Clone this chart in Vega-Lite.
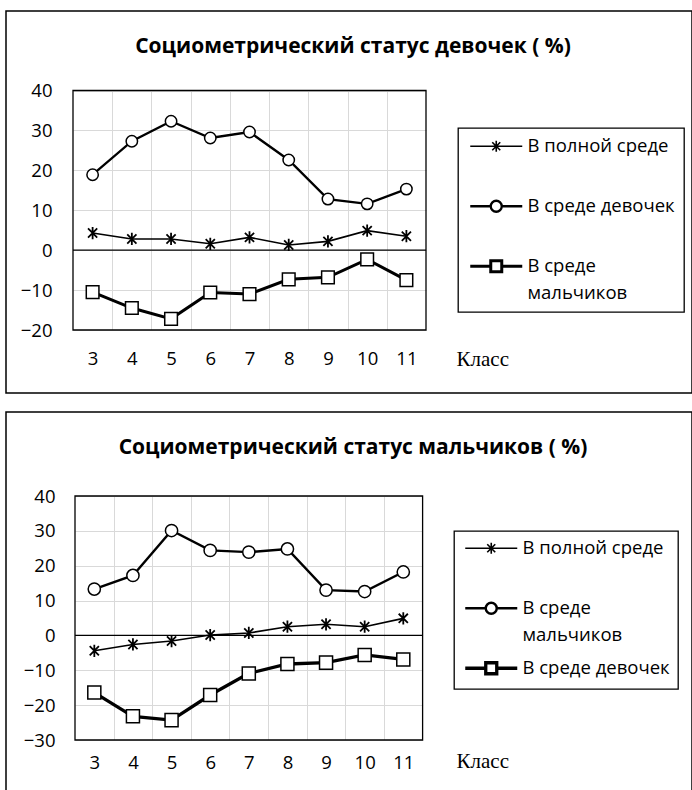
{
  "$schema": "https://vega.github.io/schema/vega-lite/v6.json",
  "background": "white",
  "padding": {"left": 5, "top": 10, "right": 0, "bottom": 0},
  "spacing": 17,
  "datasets": {
    "girls": [
      {"class": 3, "series": "В полной среде", "value": 4.3},
      {"class": 4, "series": "В полной среде", "value": 2.8},
      {"class": 5, "series": "В полной среде", "value": 2.8},
      {"class": 6, "series": "В полной среде", "value": 1.6},
      {"class": 7, "series": "В полной среде", "value": 3.2},
      {"class": 8, "series": "В полной среде", "value": 1.3},
      {"class": 9, "series": "В полной среде", "value": 2.2},
      {"class": 10, "series": "В полной среде", "value": 4.9},
      {"class": 11, "series": "В полной среде", "value": 3.5},
      {"class": 3, "series": "В среде девочек", "value": 18.9},
      {"class": 4, "series": "В среде девочек", "value": 27.3},
      {"class": 5, "series": "В среде девочек", "value": 32.3},
      {"class": 6, "series": "В среде девочек", "value": 28.1},
      {"class": 7, "series": "В среде девочек", "value": 29.6},
      {"class": 8, "series": "В среде девочек", "value": 22.6},
      {"class": 9, "series": "В среде девочек", "value": 12.8},
      {"class": 10, "series": "В среде девочек", "value": 11.6},
      {"class": 11, "series": "В среде девочек", "value": 15.3},
      {"class": 3, "series": "В среде мальчиков", "value": -10.5},
      {"class": 4, "series": "В среде мальчиков", "value": -14.5},
      {"class": 5, "series": "В среде мальчиков", "value": -17.2},
      {"class": 6, "series": "В среде мальчиков", "value": -10.6},
      {"class": 7, "series": "В среде мальчиков", "value": -11.0},
      {"class": 8, "series": "В среде мальчиков", "value": -7.3},
      {"class": 9, "series": "В среде мальчиков", "value": -6.8},
      {"class": 10, "series": "В среде мальчиков", "value": -2.3},
      {"class": 11, "series": "В среде мальчиков", "value": -7.5}
    ],
    "boys": [
      {"class": 3, "series": "В полной среде", "value": -4.4},
      {"class": 4, "series": "В полной среде", "value": -2.6},
      {"class": 5, "series": "В полной среде", "value": -1.6},
      {"class": 6, "series": "В полной среде", "value": 0.1},
      {"class": 7, "series": "В полной среде", "value": 0.7},
      {"class": 8, "series": "В полной среде", "value": 2.5},
      {"class": 9, "series": "В полной среде", "value": 3.2},
      {"class": 10, "series": "В полной среде", "value": 2.5},
      {"class": 11, "series": "В полной среде", "value": 4.9},
      {"class": 3, "series": "В среде мальчиков", "value": 13.3},
      {"class": 4, "series": "В среде мальчиков", "value": 17.2},
      {"class": 5, "series": "В среде мальчиков", "value": 30.1},
      {"class": 6, "series": "В среде мальчиков", "value": 24.4},
      {"class": 7, "series": "В среде мальчиков", "value": 23.9},
      {"class": 8, "series": "В среде мальчиков", "value": 24.8},
      {"class": 9, "series": "В среде мальчиков", "value": 13.0},
      {"class": 10, "series": "В среде мальчиков", "value": 12.6},
      {"class": 11, "series": "В среде мальчиков", "value": 18.2},
      {"class": 3, "series": "В среде девочек", "value": -16.4},
      {"class": 4, "series": "В среде девочек", "value": -23.2},
      {"class": 5, "series": "В среде девочек", "value": -24.3},
      {"class": 6, "series": "В среде девочек", "value": -17.1},
      {"class": 7, "series": "В среде девочек", "value": -10.9},
      {"class": 8, "series": "В среде девочек", "value": -8.2},
      {"class": 9, "series": "В среде девочек", "value": -7.8},
      {"class": 10, "series": "В среде девочек", "value": -5.6},
      {"class": 11, "series": "В среде девочек", "value": -6.9}
    ]
  },
  "vconcat": [
    {
      "width": 686,
      "height": 382,
      "title": {"text": "Социометрический статус девочек ( %)", "offset": -57, "dx": 4, "baseline": "middle", "frame": "group", "anchor": "middle"},
      "data": {"name": "girls"},
      "layer": [
        {
          "data": {"values": [{}]},
          "mark": {"type": "rect", "fill": "transparent", "stroke": "black", "strokeWidth": 1.3},
          "encoding": {
            "x": {"datum": 2.5, "type": "quantitative",
                  "scale": {"domain": [2.5, 11.5], "range": [67, 420], "nice": false, "zero": false},
                  "axis": {"orient": "top", "values": [3.5, 4.5, 5.5, 6.5, 7.5, 8.5, 9.5, 10.5], "grid": true,
                           "gridColor": "#d9d9d9", "gridWidth": 1, "labels": false, "title": null}},
            "x2": {"datum": 11.5},
            "y": {"datum": -20, "type": "quantitative", "scale": {"domain": [-20, 40], "range": [319, 79.5], "nice": false, "zero": false}},
            "y2": {"datum": 40}
          }
        },
        {
          "data": {"values": [{}]},
          "mark": {"type": "rule", "color": "black", "strokeWidth": 1.3},
          "encoding": {
            "x": {"datum": 2.5, "type": "quantitative", "scale": {"domain": [2.5, 11.5], "range": [67, 420], "nice": false, "zero": false}, "axis": null},
            "x2": {"datum": 11.5},
            "y": {"datum": 0, "type": "quantitative", "scale": {"domain": [-20, 40], "range": [319, 79.5], "nice": false, "zero": false}}
          }
        },
        {
          "mark": {"type": "line"},
          "encoding": {
            "x": {"field": "class", "type": "quantitative",
                  "scale": {"domain": [2.5, 11.5], "range": [67, 420], "nice": false, "zero": false},
                  "axis": {"orient": "bottom", "values": [3, 4, 5, 6, 7, 8, 9, 10, 11], "grid": false,
                           "offset": -63, "labelPadding": 19, "labelFlush": false, "labelOverlap": false, "format": "d",
                           "title": "Класс", "titleFont": "Liberation Serif", "titleFontSize": 21, "titleFontWeight": "normal",
                           "titleColor": "black", "titleX": 450, "titleY": 29, "titleAlign": "left", "titleBaseline": "middle", "titleAngle": 0}},
            "y": {"field": "value", "type": "quantitative",
                  "scale": {"domain": [-20, 40], "range": [319, 79.5], "nice": false, "zero": false},
                  "axis": {"values": [-20, -10, 0, 10, 20, 30, 40], "grid": true, "gridColor": "#d9d9d9", "gridWidth": 1,
                           "offset": -67, "labelPadding": 21, "title": null}},
            "stroke": {"field": "series", "type": "nominal",
                       "scale": {"domain": ["В полной среде", "В среде девочек", "В среде мальчиков"], "range": ["black", "black", "black"]},
                       "legend": {"title": null, "orient": "none", "legendX": 452, "legendY": 117, "padding": 9,
                                  "strokeColor": "black", "gridAlign": "all", "rowPadding": 11, "symbolSize": 100,
                                  "symbolOffset": 20,
                                  "labelFont": "Open Sans", "labelFontSize": 18.5, "labelColor": "black", "labelOffset": 22,
                                  "labelBaseline": "top", "labelLimit": 400,
                                  "labelExpr": "datum.label === 'В среде мальчиков' ? ['В среде', 'мальчиков'] : datum.label",
                                  "encode": {
                                    "labels": {"update": {"dy": {"value": -9}, "lineHeight": {"value": 27}}},
                                    "symbols": {"update": {
                                      "shape": {"signal": "datum.index === 0 ? 'M-5.2,0H5.2M-0.8,-0.8L0.8,0.8M-0.8,0.8L0.8,-0.8M0,-1.1V1.1' : datum.index === 1 ? 'M-5.2,0H-1.1M1.1,0H5.2M-1.1,0A1.1,1.1,0,1,0,1.1,0A1.1,1.1,0,1,0,-1.1,0Z' : 'M-5.2,0H-1.1M1.1,0H5.2M-1.1,-1.1H1.1V1.1H-1.1Z'"},
                                      "size": {"value": 100},
                                      "strokeWidth": {"signal": "datum.index === 0 ? 1.6 : 2.6"},
                                      "fill": {"value": "white"}, "stroke": {"value": "black"}, "opacity": {"value": 1}}},
                                    "legend": {"update": {"strokeWidth": {"value": 1.3}}}
                                  }}},
            "strokeWidth": {"field": "series", "type": "nominal",
                            "scale": {"domain": ["В полной среде", "В среде девочек", "В среде мальчиков"], "range": [1.6, 3, 3]},
                            "legend": null}
          }
        },
        {
          "transform": [{"filter": {"field": "series", "equal": "В полной среде"}}],
          "mark": {"type": "point", "shape": "M0,-1V1M-0.75,-0.75L0.75,0.75M-0.75,0.75L0.75,-0.75", "size": 150, "stroke": "black", "strokeWidth": 1.8, "opacity": 1},
          "encoding": {
            "x": {"field": "class", "type": "quantitative", "scale": {"domain": [2.5, 11.5], "range": [67, 420], "nice": false, "zero": false}, "axis": null},
            "y": {"field": "value", "type": "quantitative", "scale": {"domain": [-20, 40], "range": [319, 79.5], "nice": false, "zero": false}}
          }
        },
        {
          "transform": [{"filter": {"field": "series", "equal": "В среде девочек"}}],
          "mark": {"type": "point", "shape": "circle", "size": 130, "filled": true, "fill": "white", "stroke": "black", "strokeWidth": 1.5, "opacity": 1},
          "encoding": {
            "x": {"field": "class", "type": "quantitative", "scale": {"domain": [2.5, 11.5], "range": [67, 420], "nice": false, "zero": false}, "axis": null},
            "y": {"field": "value", "type": "quantitative", "scale": {"domain": [-20, 40], "range": [319, 79.5], "nice": false, "zero": false}}
          }
        },
        {
          "transform": [{"filter": {"field": "series", "equal": "В среде мальчиков"}}],
          "mark": {"type": "point", "shape": "square", "size": 160, "filled": true, "fill": "white", "stroke": "black", "strokeWidth": 1.5, "opacity": 1},
          "encoding": {
            "x": {"field": "class", "type": "quantitative", "scale": {"domain": [2.5, 11.5], "range": [67, 420], "nice": false, "zero": false}, "axis": null},
            "y": {"field": "value", "type": "quantitative", "scale": {"domain": [-20, 40], "range": [319, 79.5], "nice": false, "zero": false}}
          }
        }
      ],
      "resolve": {"axis": {"x": "independent"}}
    },
    {
      "width": 686,
      "height": 381,
      "title": {"text": "Социометрический статус мальчиков ( %)", "offset": -57, "dx": 4, "baseline": "middle", "frame": "group", "anchor": "middle"},
      "data": {"name": "boys"},
      "layer": [
        {
          "data": {"values": [{}]},
          "mark": {"type": "rect", "fill": "transparent", "stroke": "black", "strokeWidth": 1.3},
          "encoding": {
            "x": {"datum": 2.5, "type": "quantitative",
                  "scale": {"domain": [2.5, 11.5], "range": [69, 416.6], "nice": false, "zero": false},
                  "axis": {"orient": "top", "values": [3.5, 4.5, 5.5, 6.5, 7.5, 8.5, 9.5, 10.5], "grid": true,
                           "gridColor": "#d9d9d9", "gridWidth": 1, "labels": false, "title": null}},
            "x2": {"datum": 11.5},
            "y": {"datum": -30, "type": "quantitative", "scale": {"domain": [-30, 40], "range": [328, 84], "nice": false, "zero": false}},
            "y2": {"datum": 40}
          }
        },
        {
          "data": {"values": [{}]},
          "mark": {"type": "rule", "color": "black", "strokeWidth": 1.3},
          "encoding": {
            "x": {"datum": 2.5, "type": "quantitative", "scale": {"domain": [2.5, 11.5], "range": [69, 416.6], "nice": false, "zero": false}, "axis": null},
            "x2": {"datum": 11.5},
            "y": {"datum": 0, "type": "quantitative", "scale": {"domain": [-30, 40], "range": [328, 84], "nice": false, "zero": false}}
          }
        },
        {
          "mark": {"type": "line"},
          "encoding": {
            "x": {"field": "class", "type": "quantitative",
                  "scale": {"domain": [2.5, 11.5], "range": [69, 416.6], "nice": false, "zero": false},
                  "axis": {"orient": "bottom", "values": [3, 4, 5, 6, 7, 8, 9, 10, 11], "grid": false,
                           "offset": -53, "labelPadding": 13, "labelFlush": false, "labelOverlap": false, "format": "d",
                           "title": "Класс", "titleFont": "Liberation Serif", "titleFontSize": 21, "titleFontWeight": "normal",
                           "titleColor": "black", "titleX": 450, "titleY": 21, "titleAlign": "left", "titleBaseline": "middle", "titleAngle": 0}},
            "y": {"field": "value", "type": "quantitative",
                  "scale": {"domain": [-30, 40], "range": [328, 84], "nice": false, "zero": false},
                  "axis": {"values": [-30, -20, -10, 0, 10, 20, 30, 40], "grid": true, "gridColor": "#d9d9d9", "gridWidth": 1,
                           "offset": -69, "labelPadding": 20, "title": null}},
            "stroke": {"field": "series", "type": "nominal",
                       "scale": {"domain": ["В полной среде", "В среде мальчиков", "В среде девочек"], "range": ["black", "black", "black"]},
                       "legend": {"title": null, "orient": "none", "legendX": 448, "legendY": 119, "padding": 8,
                                  "strokeColor": "black", "gridAlign": "all", "rowPadding": 11, "symbolSize": 100,
                                  "symbolOffset": 20,
                                  "labelFont": "Open Sans", "labelFontSize": 18.5, "labelColor": "black", "labelOffset": 22,
                                  "labelBaseline": "top", "labelLimit": 400,
                                  "labelExpr": "datum.label === 'В среде мальчиков' ? ['В среде', 'мальчиков'] : datum.label",
                                  "encode": {
                                    "labels": {"update": {"dy": {"value": -9}, "lineHeight": {"value": 27}}},
                                    "symbols": {"update": {
                                      "shape": {"signal": "datum.index === 0 ? 'M-5.2,0H5.2M-0.8,-0.8L0.8,0.8M-0.8,0.8L0.8,-0.8M0,-1.1V1.1' : datum.index === 1 ? 'M-5.2,0H-1.1M1.1,0H5.2M-1.1,0A1.1,1.1,0,1,0,1.1,0A1.1,1.1,0,1,0,-1.1,0Z' : 'M-5.2,0H-1.1M1.1,0H5.2M-1.1,-1.1H1.1V1.1H-1.1Z'"},
                                      "size": {"value": 100},
                                      "strokeWidth": {"signal": "datum.index === 0 ? 1.6 : 2.8"},
                                      "fill": {"value": "white"}, "stroke": {"value": "black"}, "opacity": {"value": 1}}},
                                    "legend": {"update": {"strokeWidth": {"value": 1.3}}}
                                  }}},
            "strokeWidth": {"field": "series", "type": "nominal",
                            "scale": {"domain": ["В полной среде", "В среде мальчиков", "В среде девочек"], "range": [1.6, 3.3, 3.3]},
                            "legend": null}
          }
        },
        {
          "transform": [{"filter": {"field": "series", "equal": "В полной среде"}}],
          "mark": {"type": "point", "shape": "M0,-1V1M-0.75,-0.75L0.75,0.75M-0.75,0.75L0.75,-0.75", "size": 150, "stroke": "black", "strokeWidth": 1.8, "opacity": 1},
          "encoding": {
            "x": {"field": "class", "type": "quantitative", "scale": {"domain": [2.5, 11.5], "range": [69, 416.6], "nice": false, "zero": false}, "axis": null},
            "y": {"field": "value", "type": "quantitative", "scale": {"domain": [-30, 40], "range": [328, 84], "nice": false, "zero": false}}
          }
        },
        {
          "transform": [{"filter": {"field": "series", "equal": "В среде мальчиков"}}],
          "mark": {"type": "point", "shape": "circle", "size": 150, "filled": true, "fill": "white", "stroke": "black", "strokeWidth": 1.5, "opacity": 1},
          "encoding": {
            "x": {"field": "class", "type": "quantitative", "scale": {"domain": [2.5, 11.5], "range": [69, 416.6], "nice": false, "zero": false}, "axis": null},
            "y": {"field": "value", "type": "quantitative", "scale": {"domain": [-30, 40], "range": [328, 84], "nice": false, "zero": false}}
          }
        },
        {
          "transform": [{"filter": {"field": "series", "equal": "В среде девочек"}}],
          "mark": {"type": "point", "shape": "square", "size": 170, "filled": true, "fill": "white", "stroke": "black", "strokeWidth": 1.5, "opacity": 1},
          "encoding": {
            "x": {"field": "class", "type": "quantitative", "scale": {"domain": [2.5, 11.5], "range": [69, 416.6], "nice": false, "zero": false}, "axis": null},
            "y": {"field": "value", "type": "quantitative", "scale": {"domain": [-30, 40], "range": [328, 84], "nice": false, "zero": false}}
          }
        }
      ],
      "resolve": {"axis": {"x": "independent"}}
    }
  ],
  "resolve": {
    "scale": {"x": "independent", "y": "independent", "stroke": "independent", "strokeWidth": "independent"},
    "legend": {"stroke": "independent"},
    "axis": {"x": "independent", "y": "independent"}
  },
  "config": {
    "font": "Open Sans",
    "view": {"stroke": "black", "strokeWidth": 1.5},
    "axis": {"labelFont": "Open Sans", "labelFontSize": 18.5, "labelColor": "black", "ticks": false, "tickSize": 0, "domain": false},
    "title": {"font": "Open Sans", "fontSize": 21, "fontWeight": "bold", "color": "black"}
  }
}
